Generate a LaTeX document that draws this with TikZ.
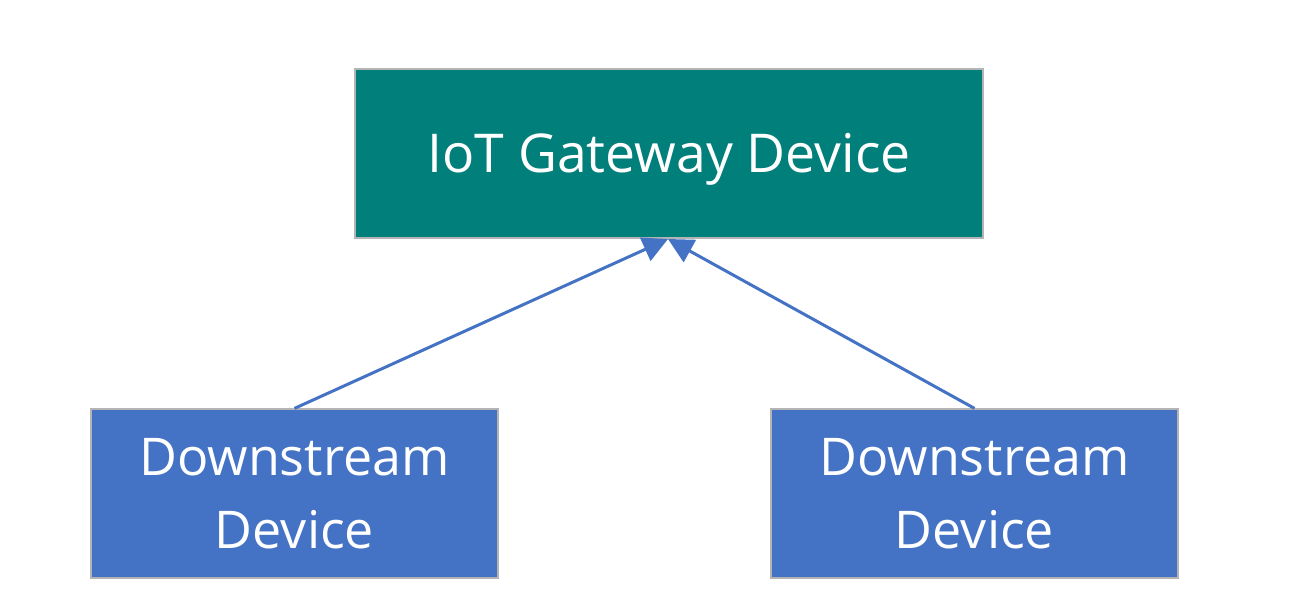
\documentclass[tikz,border=0pt]{standalone}
\usepackage{fontspec}
\setmainfont{Open Sans}
\usetikzlibrary{arrows.meta}
\definecolor{gwteal}{HTML}{007F7B}
\definecolor{dsblue}{HTML}{4472C4}
\definecolor{edge}{HTML}{B4B4B4}
\begin{document}
\begin{tikzpicture}[x=1pt,y=-1pt,
  box/.style={draw=edge,line width=1.2pt,text=white,font=\fontsize{52}{73}\selectfont,align=center,inner sep=0pt},
  conn/.style={draw=dsblue,line width=3pt,-{Triangle[length=25pt,width=25pt]}}]
\useasboundingbox (0,0) rectangle (1293,612);
\node[box,fill=gwteal,minimum width=628pt,minimum height=169pt,font=\fontsize{53.5}{73}\selectfont] (gw) at (669,153.5) {\raisebox{-6pt}[\height][\depth]{IoT Gateway Device}};
\node[box,fill=dsblue,minimum width=407pt,minimum height=169pt] (d1) at (294.5,493.5) {Downstream\\Device};
\node[box,fill=dsblue,minimum width=407pt,minimum height=169pt] (d2) at (974.5,493.5) {Downstream\\Device};
\coordinate (tip) at (668,239);
\draw[conn] (d1.north) -- (tip);
\draw[conn] (d2.north) -- (tip);
\end{tikzpicture}
\end{document}
